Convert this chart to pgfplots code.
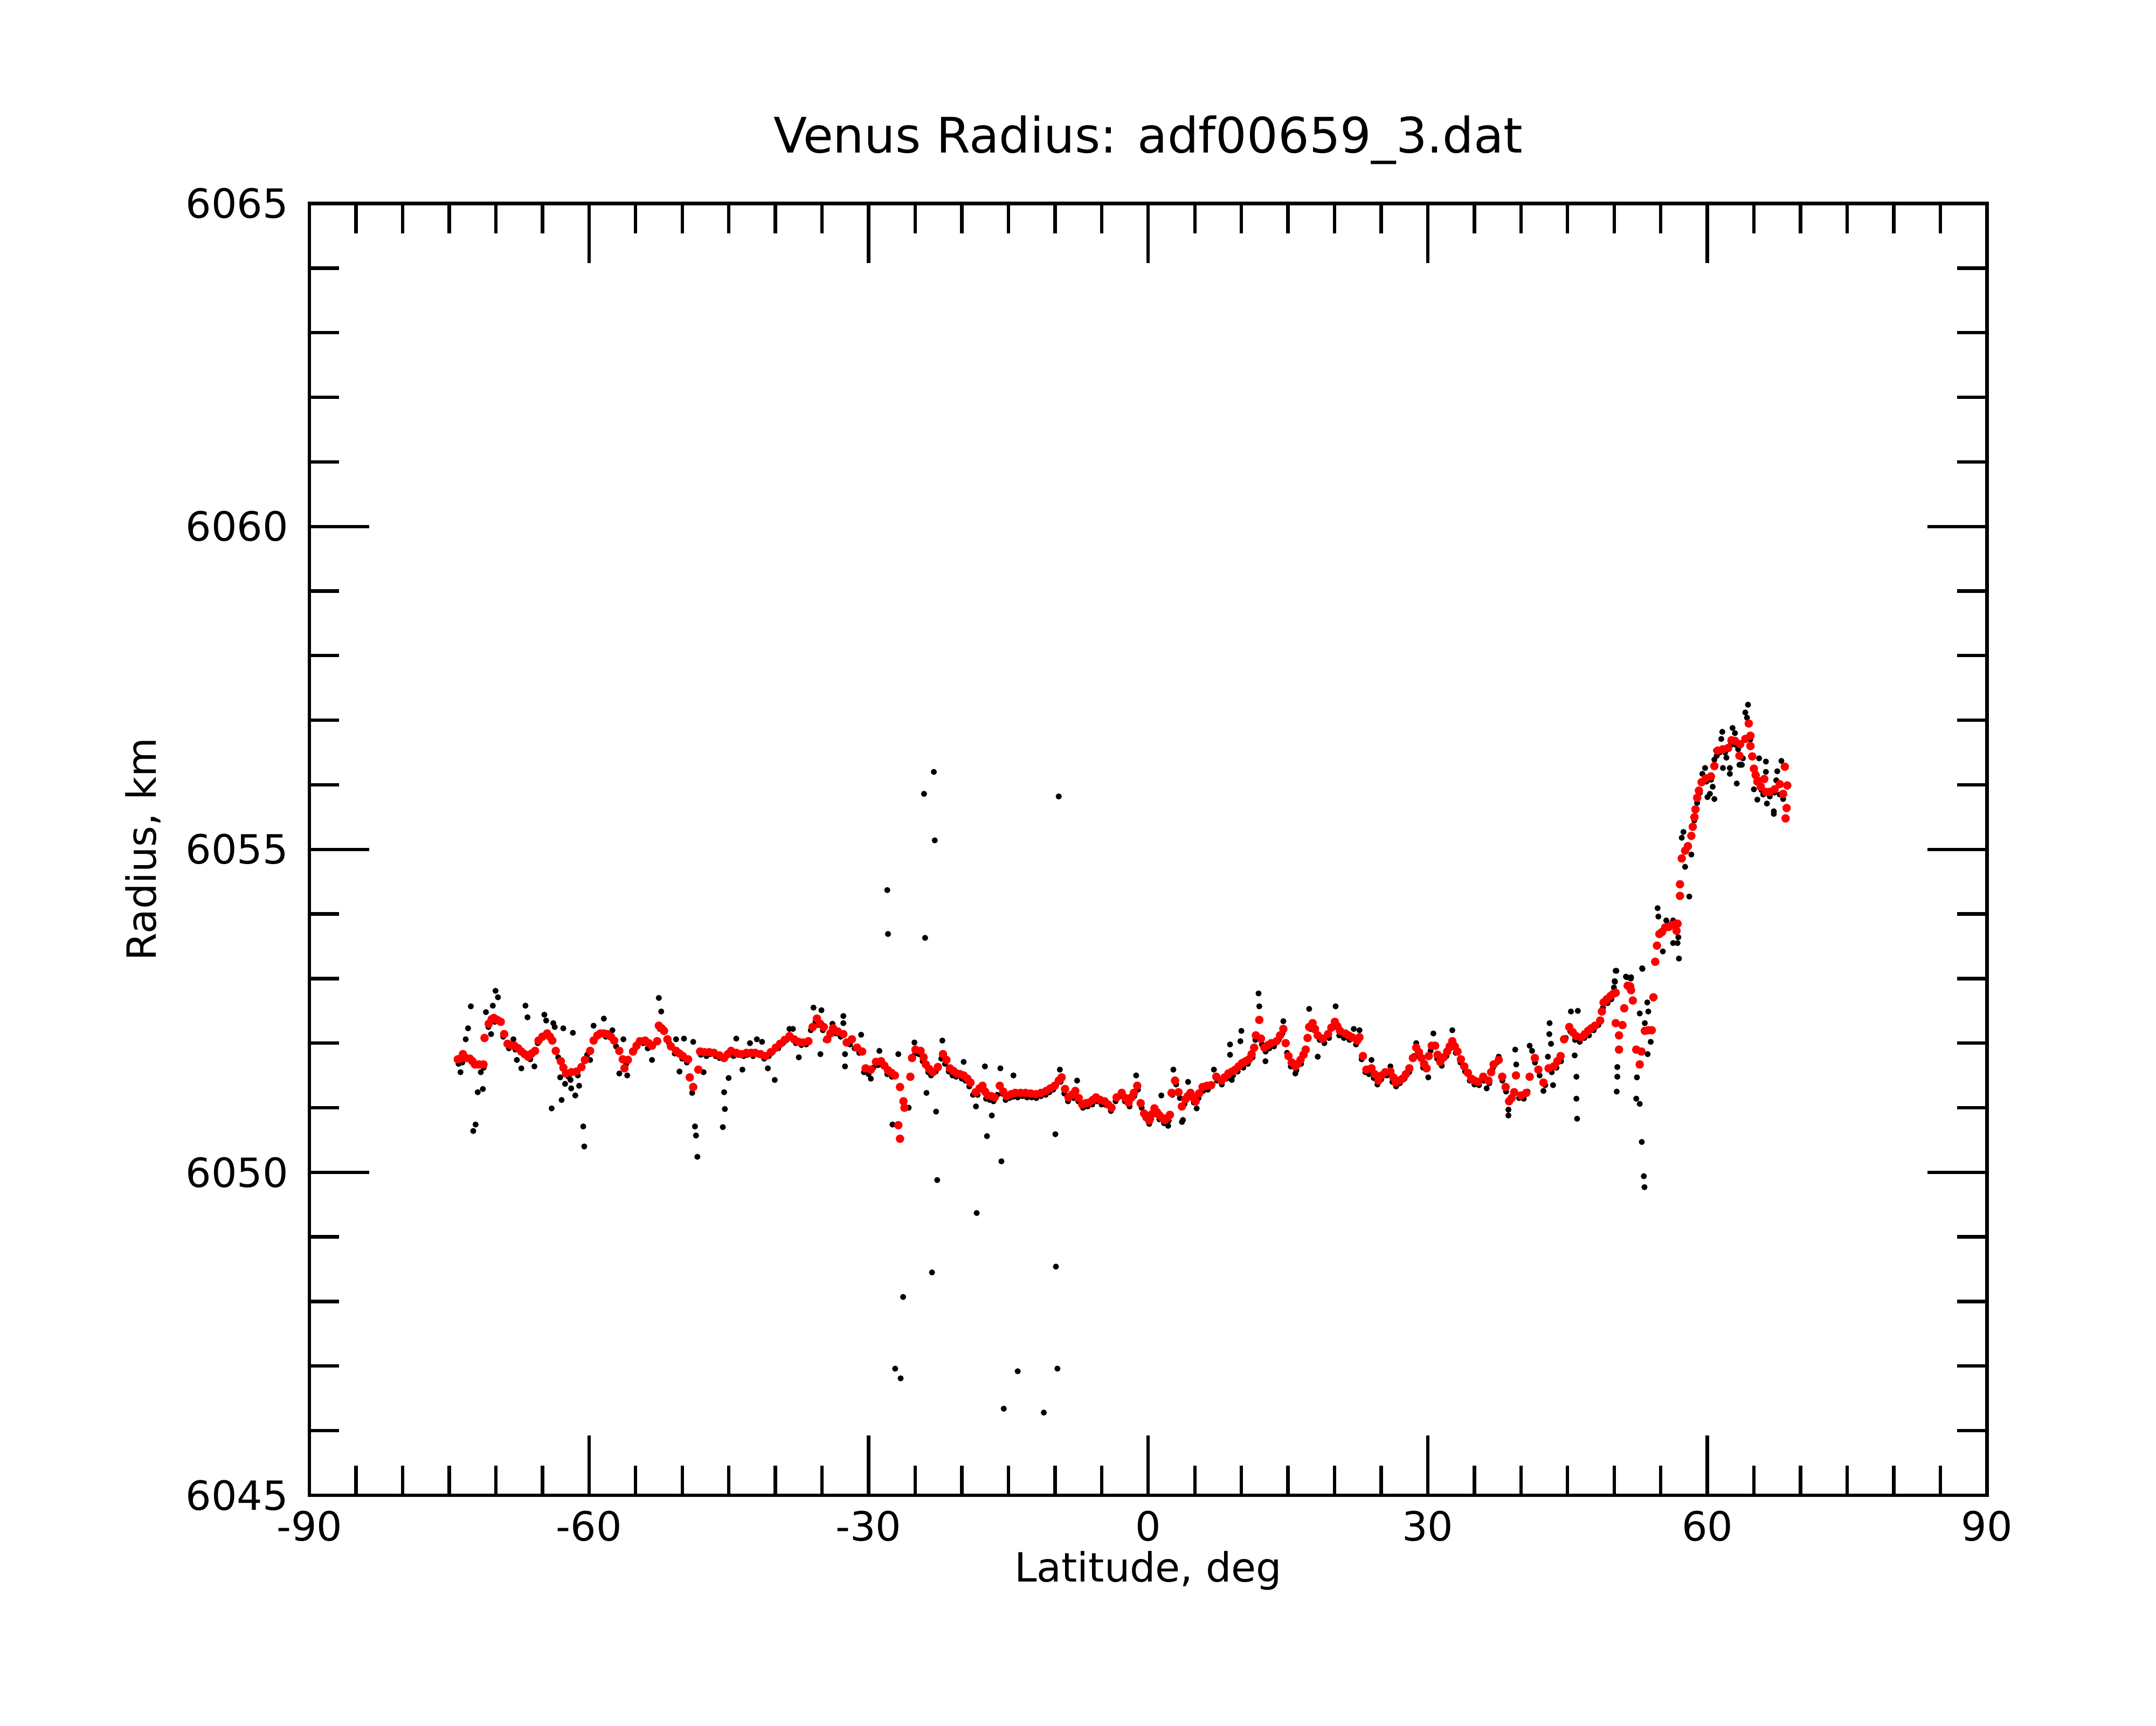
\documentclass[border=0pt]{standalone}
\usepackage{fontspec}
\setmainfont{DejaVu Sans}
\usepackage{pgfplots}
\pgfplotsset{compat=1.18}
\begin{document}
\begin{tikzpicture}
\begin{axis}[
 scale only axis, width=7.78in, height=5.99in,
 xmin=-90, xmax=90, ymin=6045, ymax=6065,
 xtick={-90,-60,-30,0,30,60,90}, xticklabels={-90,-60,-30,0,30,60,90},
 ytick={6045,6050,6055,6060,6065}, yticklabels={6045,6050,6055,6060,6065},
 minor xtick={-85,-80,-75,-70,-65,-55,-50,-45,-40,-35,-25,-20,-15,-10,-5,5,10,15,20,25,35,40,45,50,55,65,70,75,80,85},
 minor ytick={6046,6047,6048,6049,6051,6052,6053,6054,6056,6057,6058,6059,6061,6062,6063,6064},
 tick align=inside, xtick pos=both, ytick pos=both,
 xticklabel pos=left, yticklabel pos=left,
 major tick length=20pt, minor tick length=10pt,
 every tick/.style={black, line width=1.15pt},
 axis line style={line width=1.15pt},
 xticklabel style={font=\fontsize{13.5}{16}\selectfont, inner sep=0pt, anchor=north, yshift=-5pt},
 yticklabel style={font=\fontsize{13.5}{16}\selectfont, inner sep=0pt, anchor=east, xshift=-6.9pt},
 every axis title shift=0pt,
 title={Venus Radius: adf00659\_3.dat},
 title style={at={(rel axis cs:0.5,1.0394)}, anchor=base, inner sep=0pt, font=\fontsize{16.4}{19}\selectfont},
 xlabel={Latitude, deg},
 xlabel style={at={(rel axis cs:0.5,-0.0671)}, anchor=base, inner sep=0pt, font=\fontsize{13.5}{16}\selectfont},
 ylabel={Radius, km},
 ylabel style={at={(rel axis cs:-0.0992,0.5)}, anchor=center, inner sep=0pt, font=\fontsize{13.5}{16}\selectfont},
]
\coordinate (sw) at (rel axis cs:0,0);
\coordinate (ne) at (rel axis cs:1,1);
\addplot[only marks, mark=*, mark size=0.8pt, black] table {
x y
-72.42 6050.64
-72.17 6050.74
-71.94 6051.24
-71.39 6051.29
-73.79 6051.55
-73.23 6052.06
-72.98 6052.23
-72.68 6052.57
-71.06 6052.48
-70.32 6052.58
-70.03 6052.81
-69.77 6052.71
-70.51 6052.14
-71.61 6051.55
-68.11 6052.06
-66.82 6052.58
-66.60 6052.40
-67.26 6051.61
-67.74 6051.74
-65.86 6051.64
-64.79 6052.44
-64.60 6052.35
-63.83 6052.31
-63.68 6052.25
-62.76 6052.23
-61.73 6052.16
-64.01 6050.99
-62.94 6051.12
-63.09 6051.47
-62.57 6051.37
-61.98 6051.43
-61.91 6051.30
-61.47 6051.19
-61.06 6051.34
-60.62 6050.71
-60.51 6050.40
-59.88 6051.74
-59.51 6052.27
-58.41 6052.38
-57.49 6052.20
-56.31 6052.06
-56.75 6051.53
-55.90 6051.50
-53.24 6051.74
-52.51 6052.70
-52.25 6052.49
-50.66 6052.06
-49.81 6052.07
-50.29 6051.56
-48.82 6052.02
-48.93 6051.23
-48.63 6050.71
-48.52 6050.57
-48.37 6050.24
-47.71 6051.55
-45.50 6051.24
-45.42 6050.98
-45.64 6050.70
-45.02 6051.46
-43.54 6051.59
-44.20 6052.07
-42.73 6052.00
-41.99 6052.06
-41.43 6052.02
-40.81 6051.61
-40.07 6051.43
-37.49 6051.78
-38.49 6052.22
-38.12 6052.22
-35.91 6052.55
-35.06 6052.51
-35.17 6051.83
-33.88 6052.30
-74.0 6051.68
-73.6 6051.70
-71.3 6051.62
-70.8 6052.25
-70.1 6052.33
-69.2 6052.10
-68.6 6051.92
-67.9 6051.90
-67.0 6051.82
-66.3 6051.75
-65.5 6052.00
-64.3 6052.10
-63.3 6051.78
-62.2 6051.48
-61.2 6051.50
-60.2 6051.82
-59.3 6052.08
-58.2 6052.10
-57.1 6051.95
-56.0 6051.68
-55.1 6051.90
-54.2 6052.00
-53.7 6051.92
-52.4 6052.22
-51.4 6052.00
-50.8 6051.84
-50.0 6051.76
-49.5 6051.70
-48.0 6051.82
-47.4 6051.80
-47.0 6051.83
-46.4 6051.80
-46.0 6051.77
-45.3 6051.80
-44.9 6051.85
-44.5 6051.80
-44.0 6051.82
-43.4 6051.80
-43.0 6051.82
-42.4 6051.80
-41.8 6051.82
-41.2 6051.76
-40.7 6051.80
-40.3 6051.86
-39.7 6051.92
-39.2 6052.00
-38.8 6052.05
-38.3 6052.08
-37.8 6052.00
-37.2 6051.97
-36.7 6051.98
-36.2 6052.20
-35.7 6052.33
-35.4 6052.28
-34.9 6052.20
-34.6 6052.05
-27.92 6053.69
-23.94 6053.63
-27.44 6050.74
-22.76 6050.94
-23.79 6051.23
-22.64 6049.88
-18.40 6049.37
-17.30 6050.56
-15.75 6050.17
-9.96 6050.59
-18.48 6051.02
-16.78 6050.88
-32.71 6052.42
-32.71 6052.31
-32.53 6051.64
-32.53 6051.83
-30.80 6052.13
-28.84 6051.88
-26.81 6051.83
-25.70 6051.00
-25.08 6052.01
-22.09 6052.04
-19.80 6051.71
-17.52 6051.64
-15.86 6051.61
-14.46 6051.50
-9.48 6051.59
-7.63 6051.42
-1.29 6051.50
2.70 6051.59
3.73 6050.81
1.41 6051.19
4.28 6051.40
7.05 6051.59
8.78 6051.98
8.78 6051.82
10.00 6052.19
9.89 6052.03
11.84 6052.77
11.92 6052.57
14.50 6052.34
17.27 6052.53
20.11 6052.57
22.06 6052.22
18.19 6051.79
15.79 6051.53
12.58 6051.72
8.97 6051.43
5.20 6050.99
0.11 6050.75
2.14 6050.72
3.62 6050.78
-29.76 6051.45
-26.26 6051.00
-33.5 6052.15
-33.0 6052.10
-32.0 6051.98
-31.5 6051.92
-31.0 6051.85
-30.5 6051.55
-30.0 6051.52
-29.5 6051.62
-29.0 6051.66
-28.5 6051.66
-28.0 6051.52
-27.5 6051.48
-25.0 6051.84
-24.6 6051.83
-24.2 6051.72
-23.6 6051.55
-23.3 6051.50
-22.8 6051.56
-22.2 6051.76
-21.8 6051.68
-21.4 6051.56
-21.0 6051.50
-20.6 6051.48
-20.0 6051.45
-19.6 6051.42
-19.2 6051.33
-18.8 6051.20
-18.3 6051.20
-17.9 6051.28
-17.4 6051.14
-17.0 6051.12
-16.6 6051.10
-16.2 6051.20
-15.7 6051.22
-15.3 6051.12
-14.9 6051.15
-14.5 6051.17
-14.0 6051.16
-13.5 6051.18
-13.0 6051.16
-12.5 6051.16
-12.0 6051.15
-11.5 6051.18
-11.0 6051.20
-10.6 6051.24
-10.2 6051.28
-9.8 6051.38
-9.4 6051.40
-9.0 6051.22
-8.6 6051.10
-8.0 6051.15
-7.5 6051.10
-7.0 6051.00
-6.5 6051.02
-6.0 6051.05
-5.5 6051.10
-5.0 6051.05
-4.5 6051.04
-4.0 6050.95
-3.5 6051.10
-3.0 6051.18
-2.5 6051.10
-2.0 6051.02
-1.5 6051.18
-1.1 6051.28
-0.7 6051.00
-0.3 6050.84
0.3 6050.82
0.8 6050.90
1.2 6050.82
1.7 6050.76
2.2 6050.80
2.6 6051.20
3.0 6051.36
3.4 6051.15
3.9 6051.06
4.4 6051.16
4.9 6051.08
5.4 6051.15
5.9 6051.26
6.4 6051.28
6.9 6051.36
7.4 6051.42
7.9 6051.36
8.4 6051.45
9.1 6051.50
9.6 6051.56
10.2 6051.62
10.7 6051.68
11.2 6051.78
11.5 6052.05
12.2 6051.98
12.6 6051.87
13.0 6051.92
13.5 6051.95
14.0 6052.05
14.4 6052.15
14.9 6051.85
15.3 6051.64
15.9 6051.58
16.4 6051.68
16.8 6051.82
17.4 6052.22
17.8 6052.20
18.4 6052.05
18.9 6052.00
19.4 6052.08
19.9 6052.25
20.5 6052.12
21.0 6052.08
21.6 6052.05
22.3 6051.98
22.9 6051.75
46.02 6050.83
45.95 6051.14
45.95 6051.48
45.76 6051.81
50.27 6051.25
50.34 6051.48
50.34 6051.63
52.37 6051.14
52.74 6051.06
52.96 6050.47
53.18 6049.94
53.25 6049.77
52.44 6051.47
38.65 6050.88
38.65 6050.97
39.38 6051.90
39.49 6051.67
43.07 6052.31
43.04 6052.14
43.22 6051.99
42.89 6051.79
43.44 6051.35
40.93 6051.96
41.19 6051.88
45.36 6052.49
46.10 6052.50
50.16 6053.12
50.08 6052.95
49.97 6052.86
51.26 6053.03
51.81 6053.02
53.03 6053.15
53.55 6052.63
53.66 6052.49
52.74 6052.46
53.29 6052.31
53.92 6052.02
53.59 6051.83
28.76 6052.00
30.60 6052.15
32.63 6052.20
23.96 6051.74
30.05 6051.47
36.32 6051.30
37.61 6051.79
42.41 6051.26
22.67 6052.20
25.99 6051.64
23.3 6051.55
23.7 6051.52
24.2 6051.46
24.6 6051.36
25.0 6051.44
25.6 6051.50
26.2 6051.40
26.6 6051.33
27.0 6051.38
27.5 6051.45
28.0 6051.55
28.5 6051.80
29.0 6051.80
29.5 6051.62
30.3 6051.88
31.0 6051.76
31.5 6051.65
32.0 6051.80
32.4 6051.92
33.0 6051.85
33.5 6051.70
34.0 6051.56
34.5 6051.42
35.0 6051.36
35.5 6051.35
36.0 6051.42
36.6 6051.38
37.0 6051.62
37.4 6051.70
38.0 6051.42
38.4 6051.25
39.1 6051.18
39.8 6051.15
40.3 6051.14
40.7 6051.25
41.5 6051.70
42.0 6051.50
42.6 6051.35
43.3 6051.55
43.8 6051.62
44.3 6051.72
44.8 6052.08
45.3 6052.18
45.8 6052.05
46.3 6052.02
46.8 6052.08
47.3 6052.12
47.8 6052.20
48.3 6052.28
48.8 6052.55
49.3 6052.62
49.7 6052.68
64.36 6057.24
64.07 6057.12
64.25 6057.04
62.70 6056.88
61.60 6056.82
61.49 6056.71
62.96 6056.80
60.93 6056.53
60.75 6056.39
62.04 6056.42
61.67 6056.26
62.41 6056.26
62.41 6056.17
63.44 6056.31
63.70 6056.31
63.15 6056.02
59.75 6056.26
59.46 6056.17
60.01 6055.81
60.57 6055.97
60.27 6055.86
60.75 6055.78
57.43 6055.27
57.25 6055.18
58.28 6054.92
57.61 6054.73
58.06 6054.27
54.66 6054.09
54.74 6053.96
55.59 6053.90
56.32 6053.90
56.88 6053.64
56.80 6053.55
56.32 6053.55
55.22 6053.42
56.95 6053.31
53.00 6053.16
50.24 6053.12
50.05 6052.96
51.35 6053.02
51.79 6053.00
65.55 6056.41
66.28 6056.36
66.28 6056.20
67.94 6056.37
67.50 6056.21
67.39 6056.07
64.99 6055.93
65.36 6055.77
65.99 6055.85
66.39 6055.71
67.13 6055.59
67.13 6055.55
67.76 6055.85
68.13 6055.78
65.55 6056.07
63.81 6056.41
63.59 6056.31
58.6 6055.45
58.9 6055.72
59.2 6055.88
59.9 6056.05
60.4 6056.08
61.0 6056.45
61.3 6056.50
61.9 6056.50
62.5 6056.62
63.0 6056.62
63.3 6056.55
64.6 6056.70
65.1 6056.20
65.8 6055.92
66.7 6055.82
67.2 6055.88
-28.0 6054.37
-23.0 6056.20
-24.05 6055.86
-22.9 6055.14
-9.6 6055.82
-27.15 6046.96
-26.56 6046.81
-26.3 6048.07
-23.2 6048.45
-14.0 6046.92
-15.5 6046.34
-11.2 6046.28
-9.74 6046.96
-9.9 6048.54
};
\addplot[only marks, mark=*, mark size=1.2pt, red, mark options={draw=red, fill=red}] table {
x y
-74.08 6051.75
-73.8 6051.76
-73.53 6051.83
-73.2 6051.77
-72.79 6051.76
-72.5 6051.72
-72.24 6051.67
-71.8 6051.67
-71.32 6051.67
-71.21 6052.08
-70.76 6052.30
-70.45 6052.37
-70.21 6052.39
-69.85 6052.36
-69.47 6052.33
-69.10 6052.14
-68.74 6051.99
-68.4 6051.97
-68.00 6051.96
-67.6 6051.92
-67.26 6051.87
-66.9 6051.83
-66.53 6051.79
-66.15 6051.84
-65.79 6051.88
-65.42 6052.04
-65.0 6052.10
-64.49 6052.15
-64.2 6052.10
-63.94 6052.04
-63.57 6051.88
-63.02 6051.72
-62.75 6051.62
-62.47 6051.53
-61.9 6051.55
-61.36 6051.56
-60.81 6051.63
-60.44 6051.74
-59.88 6051.88
-59.51 6052.04
-59.1 6052.12
-58.78 6052.15
-58.4 6052.15
-58.04 6052.14
-57.65 6052.10
-57.30 6052.04
-56.75 6051.88
-56.38 6051.75
-56.20 6051.61
-55.83 6051.74
-55.28 6051.87
-54.9 6051.96
-54.54 6052.03
-53.98 6052.04
-53.6 6052.00
-53.24 6051.96
-52.69 6052.03
-52.51 6052.27
-52.2 6052.23
-51.95 6052.19
-51.59 6052.06
-51.21 6051.95
-50.66 6051.88
-50.3 6051.84
-49.93 6051.80
-49.37 6051.75
-49.19 6051.47
-48.82 6051.32
-48.27 6051.59
-48.08 6051.87
-47.6 6051.86
-47.1 6051.86
-46.61 6051.85
-46.0 6051.81
-45.50 6051.77
-45.1 6051.83
-44.76 6051.88
-44.2 6051.85
-43.65 6051.83
-43.1 6051.85
-42.6 6051.85
-42.18 6051.85
-41.6 6051.83
-41.07 6051.80
-40.5 6051.86
-39.96 6051.93
-39.5 6051.99
-39.0 6052.05
-38.49 6052.11
-38.0 6052.06
-37.5 6052.02
-37.01 6052.01
-36.46 6052.03
-36.0 6052.25
-35.54 6052.38
-35.2 6052.30
-34.81 6052.25
-34.43 6052.06
-34.1 6052.15
-33.82 6052.23
-33.3 6052.18
-32.71 6052.14
-32.35 6052.01
-31.79 6052.06
-31.24 6051.93
-30.69 6051.87
-30.32 6051.61
-29.76 6051.59
-29.21 6051.71
-28.66 6051.72
-28.3 6051.65
-27.92 6051.58
-27.55 6051.54
-27.18 6051.50
-26.81 6050.73
-26.63 6051.32
-26.63 6050.52
-26.26 6051.10
-26.15 6051.00
-25.52 6051.48
-25.34 6051.77
-24.97 6051.90
-24.42 6051.88
-24.1 6051.78
-23.86 6051.67
-23.5 6051.60
-23.12 6051.55
-22.57 6051.63
-22.02 6051.83
-21.65 6051.74
-21.28 6051.61
-20.9 6051.57
-20.54 6051.53
-20.2 6051.52
-19.80 6051.50
-19.4 6051.45
-19.07 6051.39
-18.51 6051.24
-18.1 6051.30
-17.78 6051.34
-17.5 6051.25
-17.22 6051.19
-16.85 6051.18
-16.48 6051.16
-15.93 6051.34
-15.55 6051.25
-15.19 6051.18
-14.7 6051.21
-14.27 6051.23
-13.7 6051.23
-13.16 6051.23
-12.6 6051.22
-12.06 6051.21
-11.5 6051.23
-10.95 6051.26
-10.5 6051.30
-10.03 6051.34
-9.6 6051.42
-9.29 6051.47
-8.92 6051.29
-8.55 6051.16
-8.2 6051.20
-7.82 6051.26
-7.45 6051.15
-7.08 6051.05
-6.7 6051.07
-6.34 6051.08
-5.95 6051.12
-5.60 6051.16
-5.15 6051.12
-4.68 6051.10
-4.3 6051.05
-3.94 6051.00
-3.39 6051.16
-2.84 6051.23
-2.45 6051.15
-2.10 6051.08
-1.8 6051.16
-1.54 6051.23
-1.18 6051.34
-0.81 6051.07
-0.44 6050.91
-0.15 6050.85
0.11 6050.80
0.40 6050.90
0.67 6050.99
0.95 6050.93
1.22 6050.88
1.50 6050.84
1.78 6050.81
2.05 6050.84
2.33 6050.89
2.51 6051.23
2.88 6051.42
3.25 6051.24
3.62 6051.02
3.99 6051.13
4.25 6051.18
4.54 6051.23
4.80 6051.16
5.10 6051.10
5.45 6051.22
5.83 6051.32
6.3 6051.34
6.76 6051.35
7.31 6051.48
7.86 6051.42
8.2 6051.47
8.60 6051.53
9.0 6051.56
9.34 6051.59
9.7 6051.64
10.07 6051.69
10.45 6051.72
10.81 6051.75
11.1 6051.83
11.37 6051.93
11.55 6052.12
11.92 6052.36
12.10 6052.07
12.47 6051.93
12.85 6051.97
13.21 6052.00
13.76 6052.03
14.15 6052.12
14.50 6052.22
14.75 6052.00
15.05 6051.80
15.4 6051.70
15.79 6051.64
16.05 6051.68
16.34 6051.74
16.65 6051.82
16.90 6051.90
17.1 6052.08
17.27 6052.25
17.64 6052.31
17.9 6052.22
18.19 6052.12
18.74 6052.07
19.30 6052.14
19.65 6052.24
20.03 6052.33
20.3 6052.26
20.59 6052.19
21.14 6052.15
21.5 6052.12
21.88 6052.09
22.43 6052.04
22.67 6052.09
23.04 6051.80
23.41 6051.59
23.96 6051.61
24.3 6051.52
24.70 6051.42
25.05 6051.50
25.44 6051.55
25.99 6051.56
26.3 6051.47
26.55 6051.39
26.9 6051.42
27.29 6051.45
27.65 6051.52
28.02 6051.61
28.4 6051.77
28.76 6051.93
29.05 6051.86
29.31 6051.77
29.6 6051.68
29.87 6051.61
30.1 6051.80
30.42 6051.96
30.79 6051.96
31.05 6051.82
31.34 6051.71
31.7 6051.78
32.08 6051.87
32.35 6051.95
32.63 6052.03
32.9 6051.95
33.19 6051.87
33.55 6051.75
33.92 6051.64
34.3 6051.54
34.66 6051.45
35.0 6051.42
35.40 6051.40
35.95 6051.48
36.51 6051.42
36.8 6051.55
37.06 6051.67
37.61 6051.74
37.98 6051.48
38.35 6051.32
38.72 6051.10
39.0 6051.15
39.27 6051.24
39.46 6051.50
40.01 6051.19
40.56 6051.23
40.93 6051.48
41.49 6051.77
41.86 6051.59
42.41 6051.39
42.96 6051.61
43.52 6051.64
43.9 6051.72
44.25 6051.80
44.62 6052.06
45.18 6052.25
45.55 6052.17
45.91 6052.11
46.47 6052.09
46.85 6052.14
47.20 6052.19
47.55 6052.23
47.94 6052.27
48.50 6052.35
48.68 6052.49
48.86 6052.63
49.2 6052.68
49.60 6052.73
49.87 6052.76
50.16 6052.78
50.16 6052.31
50.52 6052.12
50.52 6051.90
50.89 6052.28
51.08 6052.54
51.45 6052.89
51.71 6052.88
51.81 6052.82
52.0 6052.66
52.37 6051.90
52.74 6051.67
52.92 6051.87
53.29 6052.19
53.65 6052.20
54.03 6052.20
54.21 6052.71
54.40 6053.26
54.59 6053.51
54.85 6053.69
55.13 6053.72
55.47 6053.79
55.87 6053.80
56.14 6053.83
56.50 6053.84
56.69 6053.74
56.80 6053.85
57.06 6054.28
57.06 6054.46
57.25 6054.86
57.61 6054.98
57.91 6055.05
58.28 6055.21
58.43 6055.35
58.61 6055.50
58.72 6055.62
58.91 6055.80
59.09 6055.91
59.38 6056.04
59.83 6056.10
60.38 6056.13
60.75 6056.29
61.12 6056.53
61.67 6056.55
62.23 6056.57
62.59 6056.69
62.96 6056.68
63.44 6056.45
63.52 6056.63
64.07 6056.71
64.44 6056.95
64.62 6056.76
64.62 6056.60
64.81 6056.44
64.99 6056.25
65.18 6056.15
65.36 6056.05
65.73 6055.97
66.10 6056.09
66.28 6055.89
66.65 6055.89
67.21 6055.93
67.76 6056.01
68.13 6055.86
68.31 6056.28
68.57 6055.99
68.50 6055.64
68.39 6055.48
};
\end{axis}
\pgfresetboundingbox
\path ([shift={(-1.435in,-1.068in)}]sw) rectangle ([shift={(0.784in,0.944in)}]ne);
\end{tikzpicture}
\end{document}
